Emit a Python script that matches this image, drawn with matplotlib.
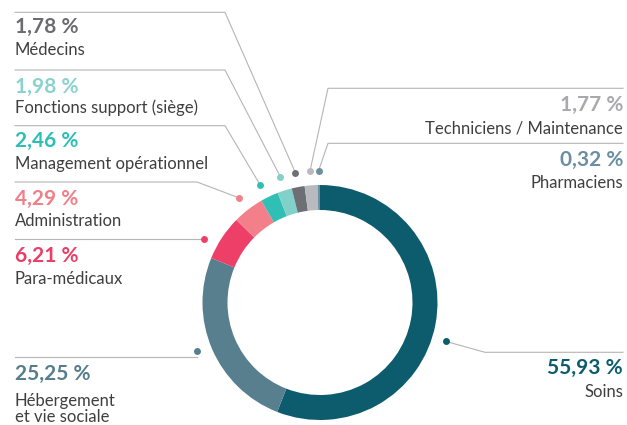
import numpy as np
import matplotlib
matplotlib.use("Agg")
import matplotlib.pyplot as plt

# Données (répartition des effectifs)
categories = ["Soins", "Hébergement\net vie sociale", "Para-médicaux", "Administration",
              "Management opérationnel", "Fonctions support (siège)", "Médecins",
              "Techniciens / Maintenance", "Pharmaciens"]
valeurs = [55.93, 25.25, 6.21, 4.29, 2.46, 1.98, 1.78, 1.77, 0.32]
etiquettes_pct = ["55,93 %", "25,25 %", "6,21 %", "4,29 %", "2,46 %", "1,98 %",
                  "1,78 %", "1,77 %", "0,32 %"]
couleurs = ["#0d5c6e", "#587f8e", "#ee3f68", "#f27f89", "#2fbfb5", "#82d0ca",
            "#6e6f75", "#b9babe", "#6a8fa0"]
couleurs_txt = ["#0d5c6e", "#567d8c", "#e93e66", "#f07f88", "#2dbfb3", "#8ad3cd",
                "#6b6b70", "#a9a9ad", "#6a8fa0"]

# Mise en page (pixels, origine en haut à gauche)
W, H = 627, 425
cx, cy = 320, 302.5
R, largeur = 117.5, 25
r_point = 132
# decalage angulaire du point de repere (degrés) par catégorie
decalage = [6.5, 1.5, -4.7, 0, -1.5, 0, 0, 0, 0]
# coude de la ligne de rappel (None = ligne horizontale jusqu'au point)
coudes = [(485, 352.3), None, None, (197, 182), (225, 125.7), (225, 70),
          (225, 12.3), (328, 88.3), (328, 143.3)]
# position du texte: (x, y du pourcentage, y du libellé, alignement)
textes = [(623, 368, 392, "right"), (15, 374, 409, "left"), (15, 256, 279, "left"),
          (15, 199, 221, "left"), (15, 141, 164, "left"), (15, 87, 108, "left"),
          (15, 27, 50, "left"), (623, 105, 128, "right"), (623, 160, 183, "right")]
lignes_y = [352.3, 357, 239, 182, 125.7, 70, 12.3, 88.3, 143.3]

plt.rcParams['font.family'] = ['Lato', 'DejaVu Sans']

fig = plt.figure(figsize=(W / 100, H / 100), dpi=100)
ax = fig.add_axes([0, 0, 1, 1])


def py(y):
    # convertit une ordonnée pixel (vers le bas) en ordonnée des données
    return H - y


ax.pie(valeurs, colors=couleurs, startangle=90, counterclock=False,
       center=(cx, py(cy)), radius=R,
       wedgeprops=dict(width=largeur, linewidth=0))

cumul = np.cumsum([0] + valeurs[:-1])
total = sum(valeurs)
for i in range(len(valeurs)):
    milieu = (cumul[i] + valeurs[i] / 2) / total * 360 + decalage[i]
    theta = np.radians(90 - milieu)
    px_ = cx + r_point * np.cos(theta)
    py_ = cy - r_point * np.sin(theta)

    xt, ypct, ylib, ha = textes[i]
    x_fin = 15 if ha == "left" else 623
    if coudes[i] is None:
        xs = [px_, x_fin]
        ys = [lignes_y[i], lignes_y[i]]
    else:
        xs = [px_, coudes[i][0], x_fin]
        ys = [py_, coudes[i][1], lignes_y[i]]
    ax.plot(xs, [py(v) for v in ys], color="#b5b5b5", lw=0.8, zorder=1)
    ax.plot(px_, py(py_), "o", color=couleurs[i], ms=5, mec="none", zorder=3)

    ax.text(xt, py(ypct), etiquettes_pct[i], ha=ha, va="center", fontsize=15,
            fontweight="bold", color=couleurs_txt[i])
    ax.text(xt, py(ylib), categories[i], ha=ha, va="center", fontsize=12,
            color="#3f3f3f", linespacing=1.05)

ax.set_xlim(0, W)
ax.set_ylim(0, H)
ax.set_aspect("equal")
ax.axis("off")

fig.savefig("out.png", dpi=100)
